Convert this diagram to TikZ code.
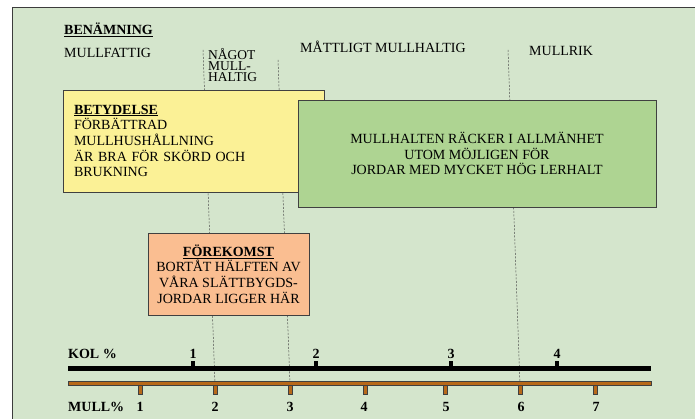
\documentclass[tikz,border=0pt]{standalone}
\usepackage{fontspec}
\setmainfont{Liberation Serif}
\definecolor{panel}{HTML}{D4E5CC}
\definecolor{panelline}{HTML}{3C3C3C}
\definecolor{boxline}{HTML}{404040}
\definecolor{yellowbox}{HTML}{FBF196}
\definecolor{greenbox}{HTML}{AED492}
\definecolor{salmonbox}{HTML}{FABE91}
\definecolor{mullbrown}{HTML}{B86919}
\begin{document}
\begin{tikzpicture}[x=1pt, y=-1pt,
    every node/.style = {inner sep=0pt, font=\fontsize{14}{15.7}\selectfont},
    txt/.style = {anchor=base west},
    head/.style = {anchor=base west, font=\fontsize{14}{15.7}\selectfont\bfseries},
    num/.style = {anchor=base, font=\fontsize{14}{15.7}\selectfont\bfseries},
    infobox/.style = {draw=boxline, line width=0.8pt},
    divider/.style = {draw=black!70, dash pattern=on 2pt off 1.5pt, line width=0.5pt},
    kolmark/.style = {fill=black, minimum width=4pt, minimum height=9pt},
    mullmark/.style = {draw=boxline, fill=mullbrown, minimum width=4pt, minimum height=9pt, line width=0.5pt}]
    \useasboundingbox (0,0) rectangle (695,419);
    \draw[draw=panelline, fill=panel, line width=1pt] (12,8) rectangle (720,440);

    % mull-skalans streck
    \node (m1) at (140,389.5) [mullmark] {};
    \node (m2) at (215,389.5) [mullmark] {};
    \node (m3) at (290,389.5) [mullmark] {};
    \node (m4) at (365,389.5) [mullmark] {};
    \node (m5) at (445,389.5) [mullmark] {};
    \node (m6) at (520,389.5) [mullmark] {};
    \node (m7) at (595,389.5) [mullmark] {};

    \coordinate (d1top) at (203,50);
    \coordinate (d2top) at (278,60);
    \coordinate (d3top) at (508,50);
    \draw[divider] (d1top) -- (m2.north);
    \draw[divider] (d2top) -- (m3.north);
    \draw[divider] (d3top) -- (m6.north);

    \fill[black] (68,365.5) rectangle (651,370.5);
    \draw[draw=boxline, fill=mullbrown, line width=0.6pt] (68,381) rectangle (651,385);

    \node (k1) at (193,365.5) [kolmark] {};
    \node (k2) at (316,365.5) [kolmark] {};
    \node (k3) at (451,365.5) [kolmark] {};
    \node (k4) at (557,365.5) [kolmark] {};

    \node (k1lab) at (193,358) [num] {1};
    \node (k2lab) at (316,358) [num] {2};
    \node (k3lab) at (451,358) [num] {3};
    \node (k4lab) at (557,358) [num] {4};
    \node (kol) at (68,358) [head] {KOL \%};

    \node (m1lab) at (140,411) [num] {1};
    \node (m2lab) at (215,411) [num] {2};
    \node (m3lab) at (290,411) [num] {3};
    \node (m4lab) at (364,411) [num] {4};
    \node (m5lab) at (446,411) [num] {5};
    \node (m6lab) at (521,411) [num] {6};
    \node (m7lab) at (596,411) [num] {7};
    \node (mull) at (68,411) [head] {MULL\%};

    % benämningar
    \node (benamning) at (64,35) [head] {\underline{BENÄMNING}};
    \node (mullfattig) at (64,58) [txt] {MULLFATTIG};
    \node (nagot) at (208,81.7) [txt, align=left, font=\fontsize{13.5}{11}\selectfont] {NÅGOT\\MULL-\\HALTIG};
    \node (mattligt) at (300,53) [txt] {MÅTTLIGT MULLHALTIG};
    \node (mullrik) at (529,56) [txt] {MULLRIK};

    \node (betydelse) at (193.5,141) [infobox, fill=yellowbox, minimum width=261pt, minimum height=102pt, text width=239pt, align=left]
        {\textbf{\underline{BETYDELSE}}\\FÖRBÄTTRAD\\MULLHUSHÅLLNING\\ÄR BRA FÖR SKÖRD OCH\\BRUKNING};
    \node (mullhalten) at (477,153.5) [infobox, fill=greenbox, minimum width=358pt, minimum height=107pt, align=center]
        {MULLHALTEN RÄCKER I ALLMÄNHET\\UTOM MÖJLIGEN FÖR\\JORDAR MED MYCKET HÖG LERHALT};
    \node (forekomst) at (228.5,274) [infobox, fill=salmonbox, minimum width=161pt, minimum height=82pt, align=center]
        {\textbf{\underline{FÖREKOMST}}\\BORTÅT HÄLFTEN AV\\VÅRA SLÄTTBYGDS-\\JORDAR LIGGER HÄR};
\end{tikzpicture}
\end{document}
